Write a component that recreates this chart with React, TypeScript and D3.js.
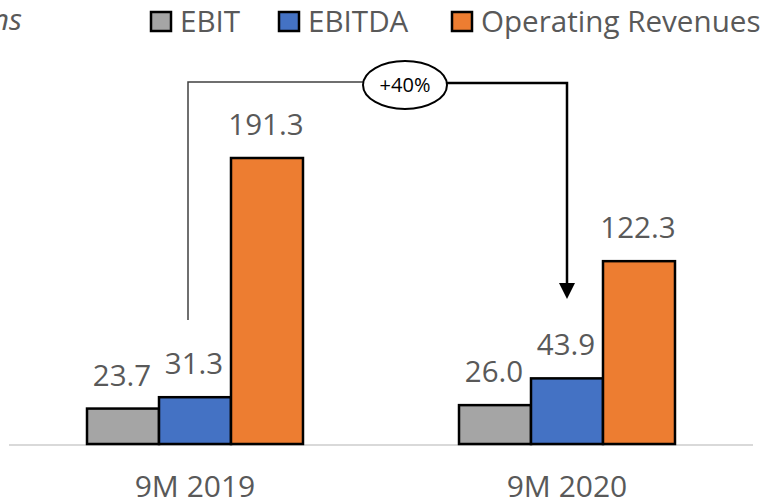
import React from 'react';
import * as d3 from 'd3';

const categories = ['9M 2019', '9M 2020'];
const seriesNames = ['EBIT', 'EBITDA', 'Operating Revenues'];
const ebit = [23.7, 26.0];
const ebitda = [31.3, 43.9];
const revenues = [191.3, 122.3];
const growthLabel = '+40%';

const colors = ['#a5a5a5', '#4472c4', '#ed7d31'];
const font = "'Open Sans', sans-serif";
const textColor = '#595959';

const App = () => {
  const W = 776, H = 502;
  const baseY = 444;

  const x = d3.scaleBand<string>()
    .domain(categories)
    .range([9, 753])
    .paddingInner(0.4194)
    .paddingOuter(0.2097);
  const inner = d3.scaleBand<string>()
    .domain(seriesNames)
    .range([0, x.bandwidth()])
    .padding(0);
  const y = d3.scaleLinear().domain([0, 200]).range([baseY, 145]);

  const values = [ebit, ebitda, revenues];
  const fmt = d3.format('.1f');

  // legend layout
  const legendX = [151, 279, 452];

  // annotation anchors
  const leftX = (x(categories[0]) ?? 0) + (inner('EBITDA') ?? 0) + inner.bandwidth() / 2 - 7;
  const rightX = (x(categories[1]) ?? 0) + (inner('EBITDA') ?? 0) + inner.bandwidth() / 2;
  const topY = 83;
  const ell = { cx: 405, cy: 85, rx: 42, ry: 24 };
  const tipY = 299;

  return (
    <svg width={W} height={H} style={{ position: 'absolute', left: 0, top: 0, background: '#fff' }}
      fontFamily={font}>
      <text x={22} y={30} textAnchor="end" fontSize={30} fontStyle="italic" fill={textColor}>€ millions</text>

      {seriesNames.map((s, i) => (
        <g key={s}>
          <rect x={legendX[i]} y={12} width={20} height={19} fill={colors[i]} stroke="#000" strokeWidth={2.5} />
          <text x={legendX[i] + 29} y={32} fontSize={29.6} fill={textColor}>{s}</text>
        </g>
      ))}

      <line x1={9} x2={753} y1={baseY + 1} y2={baseY + 1} stroke="#d9d9d9" strokeWidth={2} />

      {categories.map((c, ci) => (
        <g key={c} transform={`translate(${x(c)},0)`}>
          {seriesNames.map((s, si) => {
            const v = values[si][ci];
            const bx = inner(s) ?? 0;
            return (
              <g key={s}>
                <rect x={bx} y={y(v)} width={inner.bandwidth()} height={baseY - y(v)}
                  fill={colors[si]} stroke="#000" strokeWidth={2.5} />
                <text x={bx + inner.bandwidth() / 2 - 1} y={y(v) - 23} textAnchor="middle"
                  fontSize={29.5} fill={textColor}>{fmt(v)}</text>
              </g>
            );
          })}
          <text x={x.bandwidth() / 2} y={497} textAnchor="middle" fontSize={30} fill={textColor}>{c}</text>
        </g>
      ))}

      {/* growth annotation */}
      <path d={`M${leftX},320 V${topY - 1} H${ell.cx - ell.rx}`} fill="none" stroke="#404040" strokeWidth={1.5} />
      <path d={`M${ell.cx + ell.rx},${topY} H${rightX} V${tipY - 15}`} fill="none" stroke="#000" strokeWidth={2.5} />
      <path d={`M${rightX - 8},${tipY - 16} L${rightX + 8},${tipY - 16} L${rightX},${tipY} Z`} fill="#000" />
      <ellipse cx={ell.cx} cy={ell.cy} rx={ell.rx} ry={ell.ry} fill="#fff" stroke="#000" strokeWidth={2} />
      <text x={ell.cx} y={ell.cy + 7} textAnchor="middle" fontSize={20} fill="#000">{growthLabel}</text>
    </svg>
  );
};

export default App;
